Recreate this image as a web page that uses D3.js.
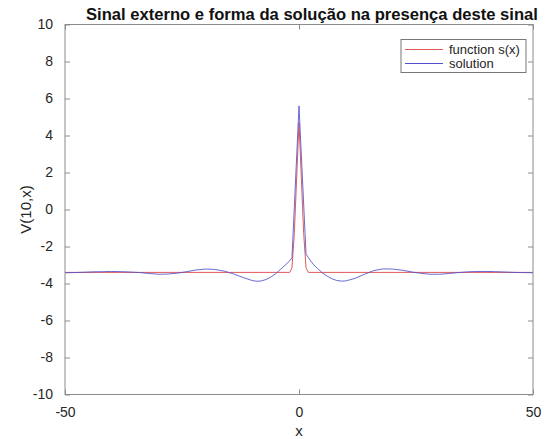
<!DOCTYPE html>
<html>
<head>
<meta charset="utf-8">
<script src="https://cdn.jsdelivr.net/npm/d3@7"></script>
<style>
  body { margin: 0; background: #fff; }
  text { font-family: "Liberation Sans", Arial, sans-serif; fill: #262626; }
</style>
</head>
<body>
<script>
// values
var xTicks = [-50, 0, 50];
var yTicks = [-10, -8, -6, -4, -2, 0, 2, 4, 6, 8, 10];

var signalX = [-50, -2, -1.5, -1, -0.5, 0, 0.5, 1, 1.5, 2, 50];
var signalY = [-3.4, -3.4, -3.15, -1.3, 1.7, 4.7, 1.7, -1.3, -3.15, -3.4, -3.4];

var solutionX = [-50, -48, -46, -44, -42, -40, -38, -36, -34, -32, -30, -28, -26, -24, -22, -20, -18, -16, -14, -12, -10, -9, -8, -7, -6, -5, -4, -3, -2, -1.5,
  0,
  1.5, 2, 3, 4, 5, 6, 7, 8, 9, 10, 12, 14, 16, 18, 20, 22, 24, 26, 28, 30, 32, 34, 36, 38, 40, 42, 44, 46, 48, 50];
var solutionY = [-3.42, -3.41, -3.39, -3.37, -3.36, -3.35, -3.36, -3.38, -3.41, -3.46, -3.5, -3.49, -3.44, -3.36, -3.27, -3.22, -3.24, -3.33, -3.48, -3.67, -3.84, -3.88, -3.86, -3.78, -3.65, -3.47, -3.25, -3.02, -2.78, -2.6,
  5.6,
  -2.4, -2.6, -2.95, -3.2, -3.42, -3.6, -3.74, -3.83, -3.87, -3.86, -3.72, -3.5, -3.3, -3.21, -3.22, -3.28, -3.37, -3.45, -3.5, -3.5, -3.46, -3.41, -3.37, -3.35, -3.35, -3.36, -3.38, -3.4, -3.41, -3.42];

var seriesNames = ["function s(x)", "solution"];
var seriesColors = ["#e05a5a", "#5050cc"];

var W = 545, H = 439;
var margin = {left: 65, right: 12, top: 24.5, bottom: 44.5};

var svg = d3.select("body").append("svg")
    .attr("width", W)
    .attr("height", H);

var x = d3.scaleLinear().domain([-50, 50]).range([margin.left, W - margin.right]);
var y = d3.scaleLinear().domain([-10, 10]).range([H - margin.bottom, margin.top]);

// series
var series = [
  d3.zip(signalX, signalY),
  d3.zip(solutionX, solutionY)
];
var line = d3.line()
    .x(function(d){ return x(d[0]); })
    .y(function(d){ return y(d[1]); });

svg.selectAll("path.series")
    .data(series)
  .enter().append("path")
    .attr("class", "series")
    .attr("d", line)
    .attr("fill", "none")
    .attr("stroke", function(d, i){ return seriesColors[i]; })
    .attr("stroke-width", 1)
    .attr("stroke-opacity", function(d, i){ return i === 1 ? 0.85 : 1; });

// axes, ticks inward on all sides
var tickLen = 5;
var axisColor = "#8c8c8c";
var plain = function(d){ return String(d); };
function styleAxis(g){
  g.select(".domain").remove();
  g.selectAll(".tick line").attr("stroke", axisColor);
  g.selectAll(".tick text").style("font-size", "14px").style("fill", "#262626");
}
svg.append("g")
    .attr("transform", "translate(0," + y.range()[0] + ")")
    .call(d3.axisBottom(x).tickValues(xTicks).tickFormat(plain).tickSizeInner(-tickLen).tickSizeOuter(0).tickPadding(13))
    .call(styleAxis);
svg.append("g")
    .attr("transform", "translate(0," + y.range()[1] + ")")
    .call(d3.axisTop(x).tickValues(xTicks).tickSizeInner(-tickLen).tickSizeOuter(0).tickFormat(""))
    .call(styleAxis);
svg.append("g")
    .attr("transform", "translate(" + x.range()[0] + ",0)")
    .call(d3.axisLeft(y).tickValues(yTicks).tickFormat(plain).tickSizeInner(-tickLen).tickSizeOuter(0).tickPadding(12))
    .call(styleAxis);
svg.append("g")
    .attr("transform", "translate(" + x.range()[1] + ",0)")
    .call(d3.axisRight(y).tickValues(yTicks).tickSizeInner(-tickLen).tickSizeOuter(0).tickFormat(""))
    .call(styleAxis);

svg.append("rect")
    .attr("x", x.range()[0])
    .attr("y", y.range()[1])
    .attr("width", x.range()[1] - x.range()[0])
    .attr("height", y.range()[0] - y.range()[1])
    .attr("fill", "none")
    .attr("stroke", axisColor)
    .attr("stroke-width", 1);

// labels
svg.append("text")
    .attr("x", 312)
    .attr("y", 19.5)
    .attr("text-anchor", "middle")
    .style("font-size", "16.6px")
    .style("font-weight", "bold")
    .style("fill", "#111")
    .text("Sinal externo e forma da solução na presença deste sinal");

svg.append("text")
    .attr("x", (x.range()[0] + x.range()[1]) / 2)
    .attr("y", 436)
    .attr("text-anchor", "middle")
    .style("font-size", "15px")
    .text("x");

svg.append("text")
    .attr("transform", "translate(31," + ((y.range()[0] + y.range()[1]) / 2) + ") rotate(-90)")
    .attr("text-anchor", "middle")
    .style("font-size", "15px")
    .text("V(10,x)");

// legend
var leg = svg.append("g").attr("transform", "translate(401,39.5)");
leg.append("rect")
    .attr("width", 125)
    .attr("height", 33)
    .attr("fill", "#fff")
    .attr("stroke", "#777")
    .attr("stroke-width", 1);
seriesNames.forEach(function(name, i){
  var row = 10 + i * 14;
  leg.append("line")
      .attr("x1", 4).attr("x2", 42)
      .attr("y1", row).attr("y2", row)
      .attr("stroke", seriesColors[i])
      .attr("stroke-width", 1.2);
  leg.append("text")
      .attr("x", 48)
      .attr("y", row + 4.5)
      .style("font-size", "13px")
      .text(name);
});
</script>
</body>
</html>
